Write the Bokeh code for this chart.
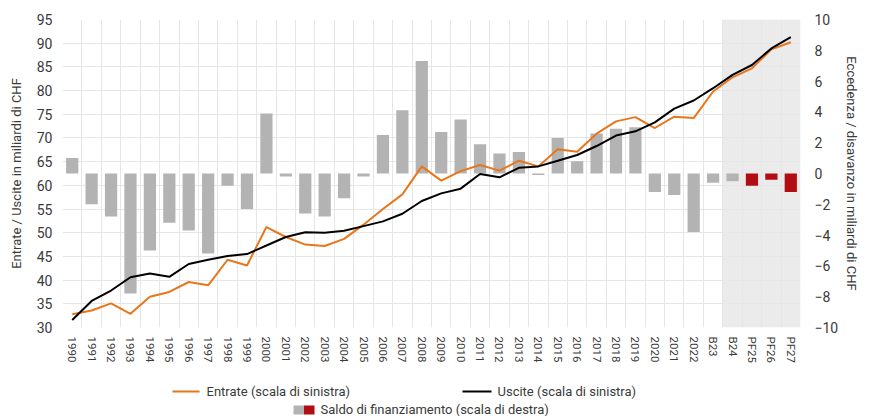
from bokeh.plotting import figure
from bokeh.models import Range1d, LinearAxis, FixedTicker, BoxAnnotation
from bokeh.layouts import column
from bokeh.embed import file_html
from bokeh.resources import INLINE
from bokeh.core.properties import value

categories = ["1990", "1991", "1992", "1993", "1994", "1995", "1996", "1997", "1998", "1999",
              "2000", "2001", "2002", "2003", "2004", "2005", "2006", "2007", "2008", "2009",
              "2010", "2011", "2012", "2013", "2014", "2015", "2016", "2017", "2018", "2019",
              "2020", "2021", "2022", "B23", "B24", "PF25", "PF26", "PF27"]

entrate = [32.8, 33.6, 35.1, 32.9, 36.5, 37.5, 39.6, 38.9, 44.3, 43.1,
           51.2, 49.1, 47.5, 47.2, 48.7, 51.7, 55.0, 58.1, 64.0, 61.0,
           63.0, 64.3, 63.1, 65.2, 64.0, 67.6, 67.1, 70.9, 73.5, 74.4,
           72.1, 74.5, 74.2, 79.8, 82.8, 84.7, 88.7, 90.2]

uscite = [31.6, 35.6, 37.8, 40.6, 41.4, 40.7, 43.4, 44.3, 45.1, 45.5,
          47.3, 49.1, 50.1, 50.0, 50.4, 51.4, 52.4, 54.0, 56.7, 58.3,
          59.3, 62.4, 61.7, 63.7, 64.0, 65.2, 66.4, 68.3, 70.5, 71.4,
          73.3, 76.2, 77.9, 80.5, 83.3, 85.4, 88.9, 91.3]

saldo = [1.0, -2.0, -2.8, -7.8, -5.0, -3.2, -3.7, -5.2, -0.8, -2.3,
         3.9, -0.2, -2.6, -2.8, -1.6, -0.2, 2.5, 4.1, 7.3, 2.7,
         3.5, 1.9, 1.3, 1.4, -0.1, 2.3, 0.8, 2.6, 2.9, 3.0,
         -1.2, -1.4, -3.8, -0.6, -0.5, -0.8, -0.4, -1.2]

piano_finanziario = ["PF25", "PF26", "PF27"]
primo_preventivo = "B24"

left_ticks = [30, 35, 40, 45, 50, 55, 60, 65, 70, 75, 80, 85, 90, 95]
right_ticks = [-10, -8, -6, -4, -2, 0, 2, 4, 6, 8, 10]

FONT = "Roboto"
TXT = "#3a3a3a"
GRAY = "#b3b3b3"
RED = "#b20d12"
ORANGE = "#e8761b"
GRID = "#e6e6e6"

BORDER_L, BORDER_R = 62, 70
W = 870

n = len(categories)
x = list(range(n))
bar_colors = [RED if c in piano_finanziario else GRAY for c in categories]

p = figure(width=W, height=372, x_range=Range1d(-0.5, n - 0.5),
           y_range=Range1d(left_ticks[0], left_ticks[-1]),
           output_backend="svg", toolbar_location=None,
           min_border_left=BORDER_L, min_border_right=BORDER_R, min_border_top=19, min_border_bottom=45)
p.extra_y_ranges = {"saldo": Range1d(right_ticks[0], right_ticks[-1])}
p.outline_line_color = None
p.background_fill_color = "white"

shade = BoxAnnotation(left=categories.index(primo_preventivo) - 0.5, right=n - 0.5,
                      fill_color="#ebebeb", fill_alpha=1.0, line_color=None, level="image")
p.add_layout(shade)

p.ygrid.ticker = FixedTicker(ticks=left_ticks)
p.xgrid.ticker = FixedTicker(ticks=[i - 0.5 for i in range(n + 1)])
p.grid.grid_line_color = GRID
p.grid.grid_line_width = 1

p.xaxis.ticker = FixedTicker(ticks=x)
p.xaxis.major_label_overrides = {i: c for i, c in enumerate(categories)}
p.xaxis.major_label_orientation = "vertical"
p.xaxis.major_label_text_font_size = "11.5px"
p.xaxis.major_label_standoff = 3

p.yaxis.ticker = FixedTicker(ticks=left_ticks)
p.yaxis.axis_label = "Entrate / Uscite in miliardi di CHF"
p.yaxis.major_label_standoff = 4
p.yaxis.axis_label_standoff = 10

right_axis = LinearAxis(y_range_name="saldo", ticker=FixedTicker(ticks=right_ticks),
                        axis_label="Eccedenza / disavanzo in miliardi di CHF")
p.add_layout(right_axis, "right")
right_axis.major_label_standoff = 8
right_axis.axis_label_standoff = 3

for ax in [p.xaxis[0], p.yaxis[0], right_axis]:
    ax.axis_line_color = None
    ax.major_tick_line_color = None
    ax.minor_tick_line_color = None
    ax.major_label_text_font = FONT
    ax.major_label_text_color = TXT
    ax.axis_label_text_font = FONT
    ax.axis_label_text_font_style = "normal"
    ax.axis_label_text_font_size = "13px"
    ax.axis_label_text_color = TXT
p.yaxis.major_label_text_font_size = "14px"
right_axis.major_label_text_font_size = "14px"

p.vbar(x=x, top=saldo, bottom=0, width=0.63, fill_color=bar_colors, line_color=None,
       y_range_name="saldo")
p.line(x, entrate, line_color=ORANGE, line_width=2)
p.line(x, uscite, line_color="black", line_width=2)

# legend strip: its frame is aligned with the main frame by the column layout,
# so the x range is set to page pixels of that frame.
lg = figure(width=W, height=44, x_range=Range1d(BORDER_L, W - BORDER_R), y_range=Range1d(0, 44),
            output_backend="svg", toolbar_location=None,
            min_border_left=BORDER_L, min_border_right=BORDER_R, min_border_top=0, min_border_bottom=0,
            x_axis_location=None, y_axis_location=None)
lg.grid.visible = False
lg.outline_line_color = None

lg.line([172, 199], [25, 25], line_color=ORANGE, line_width=2)
lg.text([206], [25], text=["Entrate (scala di sinistra)"], text_font=value(FONT),
        text_font_size="13px", text_baseline="middle", text_color=TXT)
lg.line([462, 491], [25, 25], line_color="black", line_width=2)
lg.text([497], [25], text=["Uscite (scala di sinistra)"], text_font=value(FONT),
        text_font_size="13px", text_baseline="middle", text_color=TXT)
lg.quad(left=[293, 303.5], right=[303.5, 314], bottom=[2, 2], top=[11, 11],
        fill_color=[GRAY, RED], line_color=None)
lg.text([320], [7], text=["Saldo di finanziamento (scala di destra)"], text_font=value(FONT),
        text_font_size="13px", text_baseline="middle", text_color=TXT)

layout = column(p, lg, spacing=0)
open("out.html", "w").write(file_html(layout, INLINE))
